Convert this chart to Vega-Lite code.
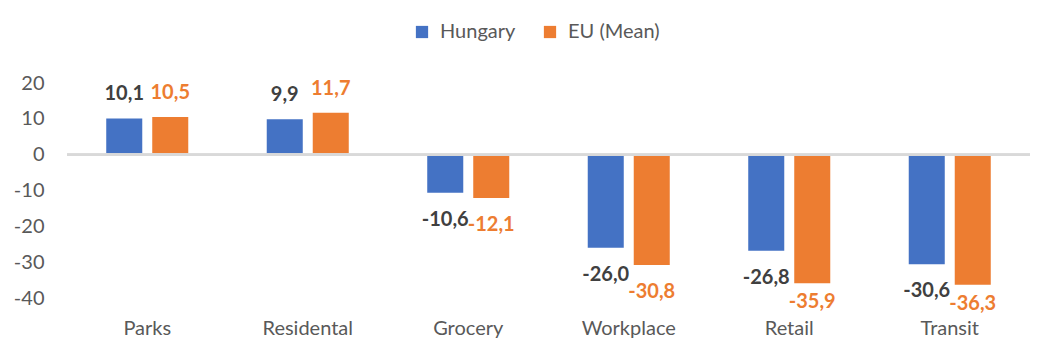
{
  "$schema": "https://vega.github.io/schema/vega-lite/v6.json",
  "width": 963,
  "height": 215,
  "autosize": "none",
  "padding": {"left": 67, "top": 83, "right": 31, "bottom": 58},
  "config": {
    "view": {"stroke": null},
    "font": "Lato",
    "locale": {"number": {"decimal": ",", "thousands": ".", "grouping": [3], "currency": ["", " €"], "minus": "-"}}
  },
  "data": {"values": [
    {"category": "Parks", "series": "Hungary", "value": 10.1},
    {"category": "Parks", "series": "EU (Mean)", "value": 10.5},
    {"category": "Residental", "series": "Hungary", "value": 9.9},
    {"category": "Residental", "series": "EU (Mean)", "value": 11.7},
    {"category": "Grocery", "series": "Hungary", "value": -10.6},
    {"category": "Grocery", "series": "EU (Mean)", "value": -12.1},
    {"category": "Workplace", "series": "Hungary", "value": -26.0},
    {"category": "Workplace", "series": "EU (Mean)", "value": -30.8},
    {"category": "Retail", "series": "Hungary", "value": -26.8},
    {"category": "Retail", "series": "EU (Mean)", "value": -35.9},
    {"category": "Transit", "series": "Hungary", "value": -30.6},
    {"category": "Transit", "series": "EU (Mean)", "value": -36.3}
  ]},
  "encoding": {
    "x": {
      "field": "category", "type": "nominal", "sort": null,
      "scale": {"paddingInner": 0, "paddingOuter": 0},
      "axis": {"title": null, "labelAngle": 0, "domain": false, "ticks": false, "tickSize": 0,
               "labelPadding": 20, "labelFontSize": 20, "labelColor": "#595959", "labelOverlap": false}
    },
    "xOffset": {
      "field": "series", "type": "nominal", "sort": ["Hungary", "EU (Mean)"],
      "scale": {"paddingInner": 0.217, "paddingOuter": 0.853}
    },
    "y": {
      "field": "value", "type": "quantitative",
      "scale": {"domain": [-40, 20], "nice": false, "zero": true},
      "axis": {"title": null, "values": [-40, -30, -20, -10, 0, 10, 20], "grid": false, "domain": false,
               "ticks": false, "tickSize": 0, "labelPadding": 23, "labelFontSize": 20, "labelColor": "#595959",
               "labelOverlap": false, "labelBound": false, "format": "d"}
    }
  },
  "layer": [
    {
      "mark": {"type": "bar"},
      "encoding": {
        "color": {
          "field": "series", "type": "nominal", "sort": ["Hungary", "EU (Mean)"],
          "scale": {"domain": ["Hungary", "EU (Mean)"], "range": ["#4472C4", "#ED7D31"]},
          "legend": {"title": null, "orient": "none", "direction": "horizontal", "legendX": 345, "legendY": -61,
                     "symbolType": "square", "symbolSize": 150, "symbolStrokeWidth": 0, "labelFontSize": 20,
                     "labelColor": "#595959", "labelOffset": 8, "columnPadding": 24}
        }
      }
    },
    {
      "mark": {"type": "rule", "color": "#D9D9D9", "strokeWidth": 2},
      "encoding": {"y": {"datum": 0, "type": "quantitative"}, "xOffset": null, "x": null}
    },
    {
      "transform": [{"filter": "datum.value >= 0"}],
      "mark": {"type": "text", "baseline": "middle", "dy": -24, "fontSize": 20, "fontWeight": "bold"},
      "encoding": {
        "text": {"field": "value", "type": "quantitative", "format": ".1f"},
        "color": {"condition": {"test": "datum.series === 'Hungary'", "value": "#404040"}, "value": "#ED7D31"}
      }
    },
    {
      "transform": [{"filter": "datum.value < 0 && datum.value >= -33"}],
      "mark": {"type": "text", "baseline": "middle", "dy": 27, "fontSize": 20, "fontWeight": "bold"},
      "encoding": {
        "text": {"field": "value", "type": "quantitative", "format": ".1f"},
        "color": {"condition": {"test": "datum.series === 'Hungary'", "value": "#404040"}, "value": "#ED7D31"}
      }
    },
    {
      "transform": [{"filter": "datum.value < -33"}],
      "mark": {"type": "text", "baseline": "middle", "dy": 19, "fontSize": 20, "fontWeight": "bold"},
      "encoding": {
        "text": {"field": "value", "type": "quantitative", "format": ".1f"},
        "color": {"condition": {"test": "datum.series === 'Hungary'", "value": "#404040"}, "value": "#ED7D31"}
      }
    }
  ]
}
